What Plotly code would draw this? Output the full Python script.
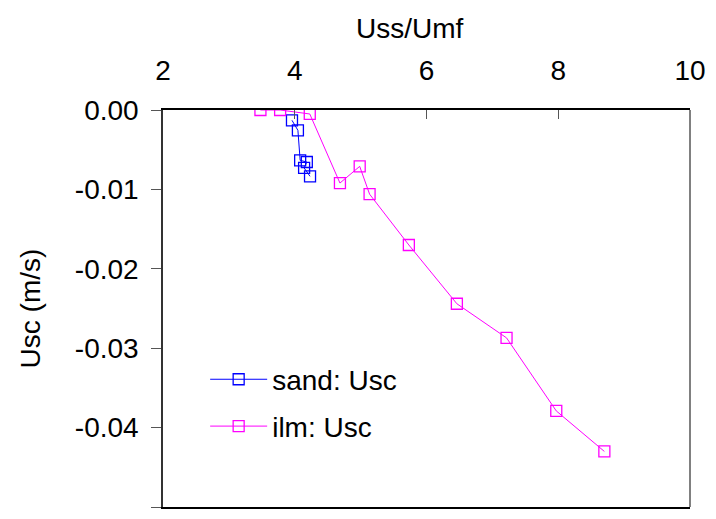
import plotly.graph_objects as go

# Data
sand_x = [3.958, 4.048, 4.082, 4.183, 4.142, 4.232]
sand_y = [-0.0013, -0.00256, -0.00634, -0.00655, -0.0073, -0.00835]

ilm_x = [3.479, 3.778, 4.228, 4.686, 4.986, 5.136, 5.732, 6.461, 7.215, 7.970, 8.700]
ilm_y = [0.0, 0.0, -0.0005, -0.0092, -0.0071, -0.0106, -0.0170, -0.0244, -0.0287, -0.0379, -0.0430]

x_ticks = [2, 4, 6, 8, 10]
y_ticks = [0.0, -0.01, -0.02, -0.03, -0.04, -0.05]
y_ticktext = ["0.00", "-0.01", "-0.02", "-0.03", "-0.04", "-0.05"]

FONT = "Liberation Sans, Arial, sans-serif"

fig = go.Figure()
fig.add_trace(go.Scatter(x=sand_x, y=sand_y, name="sand: Usc", mode="lines+markers",
                         line=dict(color="#0000ff", width=1), legend="legend",
                         marker=dict(symbol="square-open", size=11, color="#0000ff",
                                     line=dict(width=1.3))))
fig.add_trace(go.Scatter(x=ilm_x, y=ilm_y, name="ilm: Usc", mode="lines+markers",
                         line=dict(color="#ff00ff", width=1), legend="legend2",
                         marker=dict(symbol="square-open", size=11, color="#ff00ff",
                                     line=dict(width=1.3))))

legend_style = dict(xanchor="left", yanchor="middle", bgcolor="rgba(0,0,0,0)",
                    font=dict(size=28), itemwidth=57)

fig.update_layout(
    width=716, height=519,
    margin=dict(l=163, r=19, t=110, b=10),
    paper_bgcolor="white", plot_bgcolor="white",
    font=dict(family=FONT, size=28, color="black"),
    showlegend=True,
    legend=dict(x=0.08, y=0.321, **legend_style),
    legend2=dict(x=0.08, y=0.203, **legend_style),
    xaxis=dict(side="top", range=[2, 10], tickvals=x_ticks,
               ticks="inside", ticklen=9, tickcolor="#555",
               showline=True, linecolor="black", linewidth=1.5, mirror=True,
               showgrid=False, zeroline=False, ticklabelstandoff=17),
    yaxis=dict(range=[-0.05, 0.0], tickvals=y_ticks, ticktext=y_ticktext,
               ticks="outside", ticklen=10, tickcolor="#555",
               showline=True, linecolor="#333", linewidth=1.5,
               showgrid=False, zeroline=False, ticklabelstandoff=7,
               title=dict(text="Usc (m/s)", standoff=26, font=dict(size=28))),
)

# x title placed a little left of centre, as in the reference
fig.add_annotation(text="Uss/Umf", xref="paper", yref="paper", x=0.468, y=1.205,
                   xanchor="center", yanchor="middle", showarrow=False,
                   font=dict(size=28))

# grey right-hand frame line
fig.add_shape(type="line", xref="paper", yref="paper", x0=1, x1=1, y0=0, y1=1,
              line=dict(color="#808080", width=2))

fig.write_html("out.html", config={"displayModeBar": False},
               post_script="document.body.style.margin='0';")
